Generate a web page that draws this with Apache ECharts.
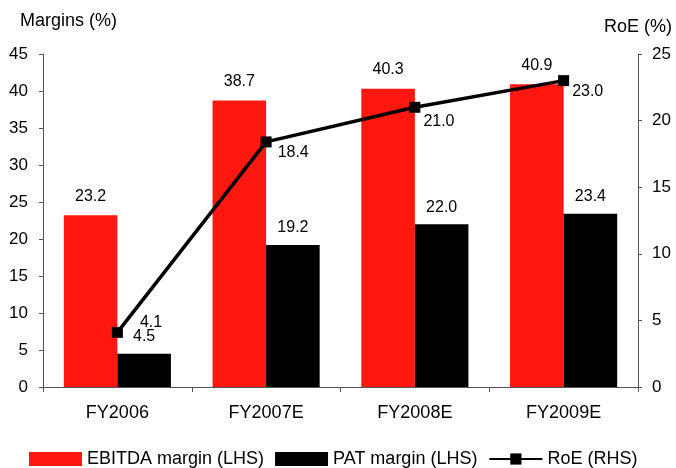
<!DOCTYPE html>
<html><head><meta charset="utf-8">
<script src="https://cdn.jsdelivr.net/npm/echarts@6/dist/echarts.min.js"></script>
<style>html,body{margin:0;padding:0;background:#fff}#c{width:676px;height:468px}</style>
</head><body><div id="c"></div>
<script>
const categories = ['FY2006', 'FY2007E', 'FY2008E', 'FY2009E'];
const ebitdaMargin = [23.2, 38.7, 40.3, 40.9];
const patMargin = [4.5, 19.2, 22.0, 23.4];
const roe = [4.1, 18.4, 21.0, 23.0];
const roeLabelOffsets = [[12, -10], [1, 11], [-2, 14], [-2, 11]];

const FONT = '"Liberation Sans", Arial, sans-serif';
const chart = echarts.init(document.getElementById('c'));
const axisLine = { show: true, lineStyle: { color: '#555', width: 1 } };
chart.setOption({
  animation: false,
  textStyle: { fontFamily: FONT, color: '#000' },
  grid: { left: 43, right: 38, top: 54, bottom: 81 },
  graphic: [
    { type: 'text', left: 20, top: 12, style: { text: 'Margins (%)', font: '18px ' + FONT, fill: '#000' } },
    { type: 'text', right: 4, top: 18, style: { text: 'RoE (%)', font: '18px ' + FONT, fill: '#000' } }
  ],
  legend: {
    left: 29, top: 450, padding: 0, itemWidth: 53, itemHeight: 14, itemGap: 11,
    textStyle: { fontSize: 18, color: '#000', fontFamily: FONT },
    data: [
      { name: 'EBITDA margin (LHS)', icon: 'rect' },
      { name: 'PAT margin (LHS)', icon: 'rect' },
      { name: 'RoE (RHS)' }
    ]
  },
  xAxis: {
    type: 'category', data: categories,
    axisLine: axisLine,
    axisTick: { show: true, length: 5, lineStyle: { color: '#555' } },
    axisLabel: { fontSize: 18, color: '#000', margin: 17, fontFamily: FONT },
    splitLine: { show: false }
  },
  yAxis: [
    { type: 'value', min: 0, max: 45, interval: 5, axisLine: axisLine,
      axisTick: { show: true, length: 4, lineStyle: { color: '#555' } },
      axisLabel: { fontSize: 17, color: '#000', margin: 15, fontFamily: FONT },
      splitLine: { show: false } },
    { type: 'value', min: 0, max: 25, interval: 5, position: 'right', axisLine: axisLine,
      axisTick: { show: true, length: 4, lineStyle: { color: '#555' } },
      axisLabel: { fontSize: 17, color: '#000', margin: 14, fontFamily: FONT },
      splitLine: { show: false } }
  ],
  series: [
    { name: 'EBITDA margin (LHS)', type: 'bar', data: ebitdaMargin, barGap: '0%', barCategoryGap: '28%',
      itemStyle: { color: '#FF1710' },
      label: { show: true, position: 'top', distance: 11, fontSize: 16, color: '#000', fontFamily: FONT,
        formatter: p => p.value.toFixed(1) } },
    { name: 'PAT margin (LHS)', type: 'bar', data: patMargin,
      itemStyle: { color: '#000' },
      label: { show: true, position: 'top', distance: 9, fontSize: 16, color: '#000', fontFamily: FONT,
        formatter: p => p.value.toFixed(1) } },
    { name: 'RoE (RHS)', type: 'line', yAxisIndex: 1,
      data: roe.map((v, i) => ({ value: v, label: { offset: roeLabelOffsets[i] } })),
      symbol: 'rect', symbolSize: 11,
      lineStyle: { color: '#000', width: 3.5 }, itemStyle: { color: '#000' },
      label: { show: true, position: 'right', distance: 5, fontSize: 16, color: '#000', fontFamily: FONT,
        formatter: p => p.value.toFixed(1) } }
  ]
});
</script></body></html>
